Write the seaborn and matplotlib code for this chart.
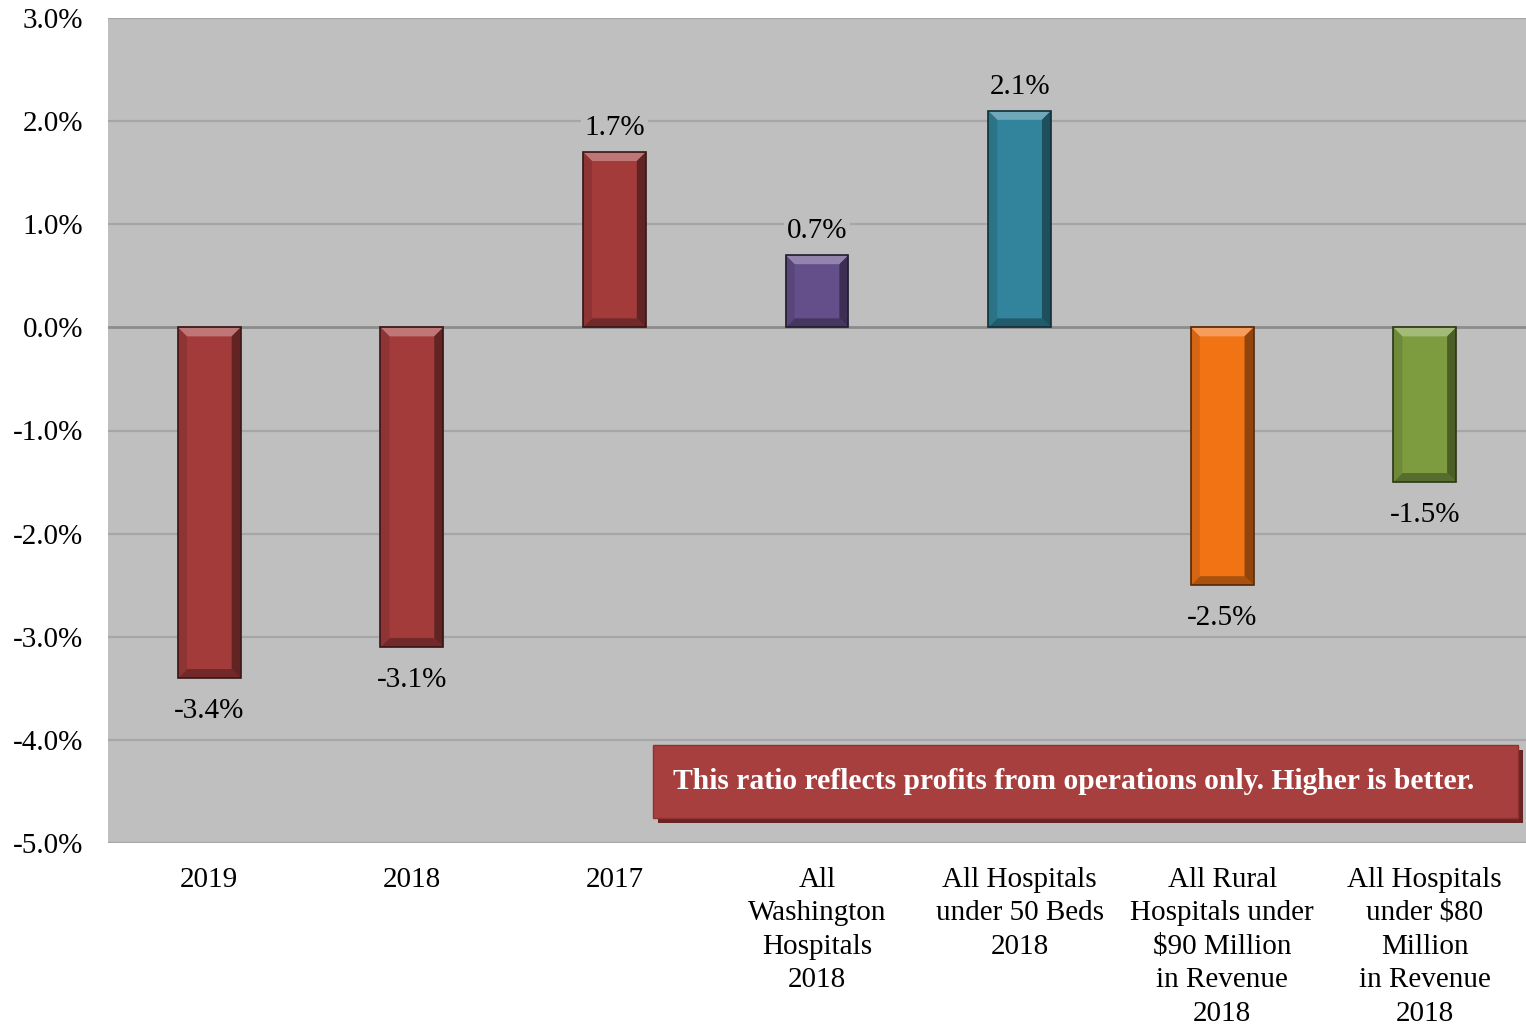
import matplotlib
matplotlib.use("Agg")
import matplotlib.pyplot as plt
import matplotlib.patches as mpatches
import matplotlib.colors as mcolors
import numpy as np
import pandas as pd
import seaborn as sns

# Operating margin by group
categories = [
    "2019",
    "2018",
    "2017",
    "All\nWashington\nHospitals\n2018",
    "All Hospitals\nunder 50 Beds\n2018",
    "All Rural\nHospitals under\n\\$90 Million\nin Revenue\n2018",
    "All Hospitals\nunder \\$80\nMillion\nin Revenue\n2018",
]
values = [-3.4, -3.1, 1.7, 0.7, 2.1, -2.5, -1.5]
bar_colors = ["#A33B3B", "#A33B3B", "#A33B3B", "#644F8A", "#31849B", "#F27314", "#7D9C40"]
y_ticks = [3.0, 2.0, 1.0, 0.0, -1.0, -2.0, -3.0, -4.0, -5.0]
note_text = "This ratio reflects profits from operations only. Higher is better."

sns.set_theme(style="white")
plt.rcParams["font.family"] = ["Liberation Serif", "DejaVu Serif"]
plt.rcParams["text.color"] = "black"
plt.rcParams["xtick.color"] = "black"
plt.rcParams["ytick.color"] = "black"

df = pd.DataFrame({"group": categories, "margin": values})

fig = plt.figure(figsize=(15.26, 10.26), dpi=100)
ax = fig.add_axes([108 / 1526, 1 - 843 / 1026, 1 - 108 / 1526, (843 - 18) / 1026])
ax.set_facecolor("#BFBFBF")

sns.barplot(data=df, x="group", y="margin", hue="group", palette=bar_colors,
            legend=False, width=0.31, ax=ax, saturation=1, zorder=3,
            edgecolor="none", linewidth=0)

ax.set_ylim(-5.0, 3.0)
ax.set_xlim(-0.5, len(categories) - 0.5)
ax.set_yticks(y_ticks)
ax.set_yticklabels([f"{t:.1f}%" for t in y_ticks])
for t in y_ticks:
    ax.axhline(t, color="#8C8C8C" if t == 0 else "#A6A6A6",
               lw=2.0 if t == 0 else 1.6, zorder=1)
ax.tick_params(axis="y", length=0, pad=18, labelsize=21)
ax.tick_params(axis="x", length=0, pad=17, labelsize=21)
for lab in ax.get_xticklabels():
    lab.set_linespacing(1.38)
    lab.set_va("top")
ax.set_xlabel("")
ax.set_ylabel("")
for s in ax.spines.values():
    s.set_visible(False)

# Bevelled look for each bar, drawn in pixel space
fig.canvas.draw()
b = 9
for patch in ax.patches:
    x, y = patch.get_x(), patch.get_y()
    w, h = patch.get_width(), patch.get_height()
    (px0, py0) = ax.transData.transform((x, min(y, y + h)))
    (px1, py1) = ax.transData.transform((x + w, max(y, y + h)))
    base = np.array(mcolors.to_rgb(patch.get_facecolor()))
    light = np.clip(base + (1 - base) * 0.3, 0, 1)
    dark = base * 0.6
    darker = base * 0.35
    polys = [
        ([(px0, py1), (px1, py1), (px1 - b, py1 - b), (px0 + b, py1 - b)], light),
        ([(px0, py0), (px1, py0), (px1 - b, py0 + b), (px0 + b, py0 + b)], base * 0.7),
        ([(px1, py0), (px1, py1), (px1 - b, py1 - b), (px1 - b, py0 + b)], dark),
        ([(px0, py0), (px0, py1), (px0 + b, py1 - b), (px0 + b, py0 + b)], base * 0.88),
    ]
    for pts, col in polys:
        fig.patches.append(mpatches.Polygon(pts, closed=True, facecolor=col,
                                            edgecolor="none", transform=None,
                                            zorder=4))
    fig.patches.append(mpatches.Rectangle((px0, py0), px1 - px0, py1 - py0,
                                          fill=False, edgecolor=darker, lw=1.2,
                                          transform=None, zorder=5))

# Value labels
for i, v in enumerate(values):
    off = 0.23 if v > 0 else -0.32
    ax.text(i, v + off, f"{v:.1f}%", ha="center", va="center",
            fontsize=21, zorder=6,
            bbox=dict(boxstyle="square,pad=0.1", fc="#BFBFBF", ec="none"))

# Note box with drop shadow
fx0, fy0, fw, fh = 653, 1026 - 818, 865, 73
fig.patches.append(mpatches.Rectangle((fx0 + 5, fy0 - 5), fw, fh, facecolor="#6A2323",
                                      edgecolor="none", transform=None, zorder=7))
fig.patches.append(mpatches.Rectangle((fx0, fy0), fw, fh, facecolor="#A83F3F",
                                      edgecolor="#8E3131", lw=1, transform=None, zorder=8))
fig.text((fx0 + 20) / 1526, (fy0 + fh / 2) / 1026, note_text, ha="left", va="center",
         color="white", fontsize=21.3, fontweight="bold", zorder=9)

fig.savefig("out.png", dpi=100)
